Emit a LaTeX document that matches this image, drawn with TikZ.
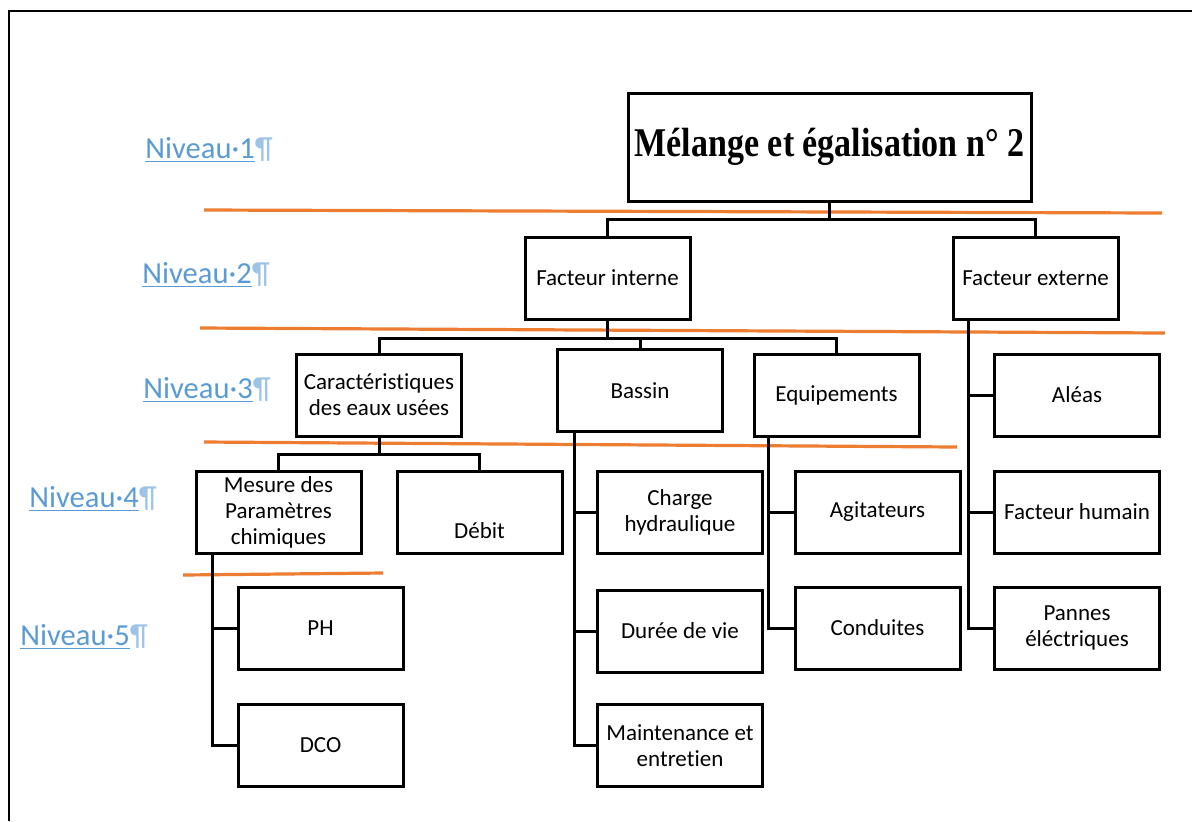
\documentclass[tikz,border=0pt]{standalone}
\usepackage{fontspec}
\setmainfont{Carlito}[Ligatures=NoCommon]
\newfontfamily\titlefont{Liberation Serif}
\usepackage{tikz}
\usepackage{xcolor}

\definecolor{levelorange}{HTML}{ED7D31}
\definecolor{levelblue}{HTML}{5B9BD5}
\definecolor{pilcrow}{HTML}{9DC3E6}

\tikzset{
  box/.style={draw,line width=1.5pt,minimum width=82.5pt,minimum height=41pt,
    align=center,inner sep=2pt,font=\fontsize{11.5}{13}\selectfont},
  bus/.style={line width=1.5pt},
  levelline/.style={levelorange,line width=1.6pt},
  level/.style={text=levelblue,font=\fontsize{15.3}{17}\selectfont,inner sep=1pt}
}
\newcommand{\niveau}[1]{\underline{Niveau·#1}{\color{pilcrow}¶}}

\begin{document}
\begin{tikzpicture}[x=0.5pt,y=-0.5pt]
        \useasboundingbox (0,0) rectangle (1192,821);
        % page frame
        \draw[line width=1pt] (9,821) -- (9,11) -- (1192,11);

        % level labels
        \node[level] (n1) at (209,150) {\niveau{1}};
        \node[level] (n2) at (206,275) {\niveau{2}};
        \node[level] (n3) at (207,390) {\niveau{3}};
        \node[level] (n4) at (93,499) {\niveau{4}};
        \node[level] (n5) at (84,637) {\niveau{5}};

        % level separators
        \draw[levelline] (204,210) -- (1162,213);
        \draw[levelline] (200,328) -- (1165,333);
        \draw[levelline] (204,442) -- (957,447);
        \draw[levelline] (183,575) -- (383,573);

        % level 1
        \node[box,minimum width=201.5pt,minimum height=54pt,
          font=\titlefont\fontsize{17}{20}\selectfont\bfseries] (titre) at (829.5,147)
          {\scalebox{1}[1.2]{Mélange et égalisation n° 2}};

        % level 2
        \node[box] (interne) at (607.5,278) {Facteur interne};
        \node[box] (externe) at (1035.5,278) {Facteur externe};

        % level 3
        \node[box] (carac) at (379,395) {Caractéristiques\\des eaux usées};
        \node[box] (bassin) at (640,390.5) {Bassin};
        \node[box] (equip) at (836.5,395) {Equipements};
        \node[box] (aleas) at (1077,395) {Aléas};

        % level 4
        \node[box] (mesure) at (278.5,512) {Mesure des\\Paramètres\\chimiques};
        \node[box] (debit) at (479.5,512) {\strut\\[4pt]Débit};
        \node[box] (charge) at (680,512) {Charge\\hydraulique};
        \node[box] (agit) at (877.5,512) {Agitateurs};
        \node[box] (humain) at (1077,512) {Facteur humain};

        % level 5
        \node[box] (ph) at (320.5,628) {PH};
        \node[box] (duree) at (680,631) {Durée de vie};
        \node[box] (cond) at (877.5,628) {Conduites};
        \node[box] (pannes) at (1077,628) {Pannes\\éléctriques};
        \node[box] (dco) at (320.5,745.5) {DCO};
        \node[box] (maint) at (680,745.5) {Maintenance et\\entretien};

        % tree connectors
        \draw[bus] (titre.south) -- ++(0,17) -| (interne.north);
        \draw[bus] (titre.south) -- ++(0,17) -| (externe.north);
        \draw[bus] (interne.south) -- ++(0,18) -| (carac.north);
        \draw[bus] (interne.south) -- ++(0,18) -| (bassin.north);
        \draw[bus] (interne.south) -- ++(0,18) -| (equip.north);
        \draw[bus] (carac.south) -- ++(0,17) -| (mesure.north);
        \draw[bus] (carac.south) -- ++(0,17) -| (debit.north);

        % side connectors
        \draw[bus] ([shift={(17,0)}]externe.south west) |- (aleas.west)
                   ([shift={(17,0)}]externe.south west) |- (humain.west)
                   ([shift={(17,0)}]externe.south west) |- (pannes.west);
        \draw[bus] ([shift={(18,0)}]bassin.south west) |- (charge.west)
                   ([shift={(18,0)}]bassin.south west) |- (duree.west)
                   ([shift={(18,0)}]bassin.south west) |- (maint.west);
        \draw[bus] ([shift={(16,0)}]equip.south west) |- (agit.west)
                   ([shift={(16,0)}]equip.south west) |- (cond.west);
        \draw[bus] ([shift={(18,0)}]mesure.south west) |- (ph.west)
                   ([shift={(18,0)}]mesure.south west) |- (dco.west);
    \end{tikzpicture}
\end{document}
